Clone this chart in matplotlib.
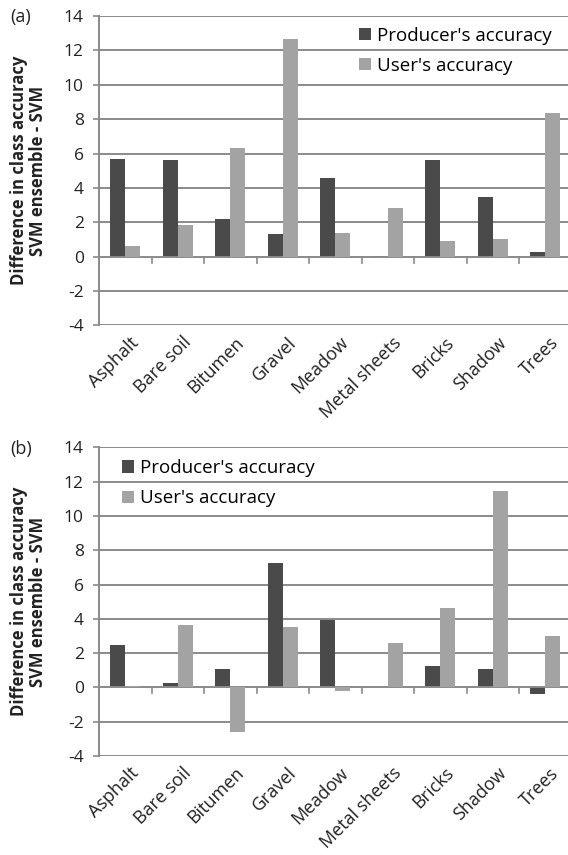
import numpy as np
import matplotlib.pyplot as plt

plt.rcParams['font.family'] = ['Open Sans', 'DejaVu Sans']
plt.rcParams['axes.unicode_minus'] = False

classes = ['Asphalt', 'Bare soil', 'Bitumen', 'Gravel', 'Meadow',
           'Metal sheets', 'Bricks', 'Shadow', 'Trees']

# (a) differences, SVM ensemble minus SVM
prod_a = [5.7, 5.6, 2.2, 1.35, 4.55, 0.05, 5.65, 3.5, 0.3]
user_a = [0.6, 1.85, 6.3, 12.65, 1.4, 2.85, 0.9, 1.05, 8.35]

# (b)
prod_b = [2.45, 0.27, 1.1, 7.25, 3.95, 0.05, 1.25, 1.1, -0.4]
user_b = [0.1, 3.65, -2.6, 3.55, -0.2, 2.6, 4.65, 11.45, 3.0]

dark = '#4a4a4a'
light = '#a3a3a3'
gridc = '#8a8a8a'
textc = '#222222'

fig = plt.figure(figsize=(5.68, 8.55), dpi=100)
ax_a = fig.add_axes([0.1743, 0.6193, 0.8257, 0.362])
ax_b = fig.add_axes([0.1743, 0.1158, 0.8257, 0.361])


def draw_panel(ax, prod, user, tag, leg_anchor):
    x = np.arange(len(classes))
    w = 0.286
    ax.bar(x - w / 2, prod, w, color=dark, label="Producer's accuracy", zorder=3)
    ax.bar(x + w / 2, user, w, color=light, label="User's accuracy", zorder=5)

    ax.set_ylim(-4, 14)
    ax.set_xlim(-0.5, 8.433)
    ax.set_yticks(np.arange(-4, 15, 2))
    for y in np.arange(-4, 15, 2):
        if y != 0:
            ax.axhline(y, color=gridc, lw=1.4, zorder=1)
    # category axis along zero with boundary ticks
    ax.axhline(0, color=gridc, lw=1.4, zorder=4)
    for b in np.arange(0.5, 8, 1):
        ax.plot([b, b], [0, -0.35], color=gridc, lw=1.2, zorder=4)

    for s in ['top', 'right', 'bottom']:
        ax.spines[s].set_visible(False)
    ax.spines['left'].set_color(gridc)
    ax.spines['left'].set_linewidth(1.4)
    ax.tick_params(axis='y', colors=gridc, length=4, width=1.2, labelsize=12.5,
                   labelcolor=textc, pad=7)
    ax.set_xticks([])

    for i, name in enumerate(classes):
        ax.annotate(name, xy=(i, -4), xycoords='data', xytext=(14, -18),
                    textcoords='offset pixels', rotation=45, ha='right',
                    va='baseline', rotation_mode='anchor', fontsize=13,
                    color=textc, annotation_clip=False)

    ax.set_ylabel('Difference in class accuracy\nSVM ensemble - SVM',
                  fontsize=12, fontweight='bold', color=textc,
                  linespacing=1.1)
    ax.yaxis.set_label_coords(-0.111, 0.5)

    bbox = ax.get_position()
    fig.text(10 / 568, bbox.y1 - 1.5 / 855, tag, fontsize=13, color=textc,
             va='center', ha='left')

    ax.legend(loc='upper left', bbox_to_anchor=leg_anchor, frameon=False,
              fontsize=13.5, handlelength=0.62, handleheight=0.62,
              handletextpad=0.3, labelspacing=0.65, borderpad=0,
              borderaxespad=0)


draw_panel(ax_a, prod_a, user_a, '(a)', (0.555, 0.965))
draw_panel(ax_b, prod_b, user_b, '(b)', (0.0497, 0.962))

fig.savefig('out.png', dpi=100)
